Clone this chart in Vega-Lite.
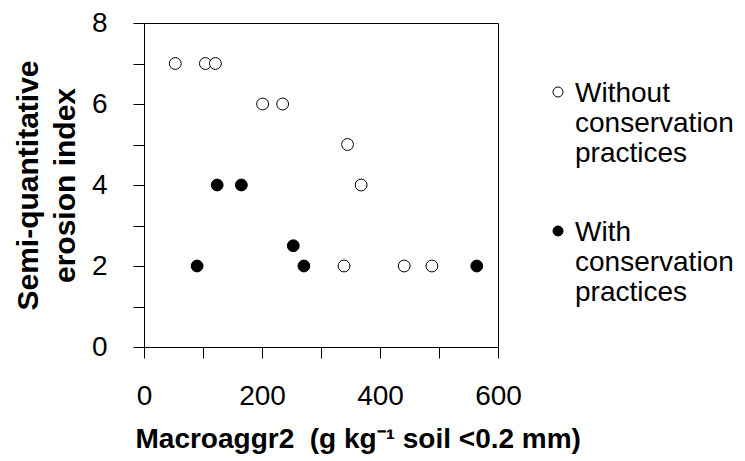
{
  "$schema": "https://vega.github.io/schema/vega-lite/v6.json",
  "width": 354,
  "height": 324,
  "autosize": {"type": "none"},
  "padding": {"left": 144, "top": 23, "right": 247, "bottom": 114},
  "background": "white",
  "config": {
    "font": "Liberation Sans",
    "view": {"stroke": "black", "strokeWidth": 1},
    "axis": {
      "grid": false,
      "domainColor": "black",
      "tickColor": "black",
      "tickSize": 11,
      "labelFlush": false,
      "labelColor": "black",
      "labelFontSize": 28,
      "labelFont": "Liberation Sans",
      "titleColor": "black",
      "titleFontSize": 28,
      "titleFontWeight": "bold",
      "titleFont": "Liberation Sans"
    }
  },
  "data": {
    "values": [
      {"macroaggr": 53, "erosion": 7, "practice": "without"},
      {"macroaggr": 104, "erosion": 7, "practice": "without"},
      {"macroaggr": 121, "erosion": 7, "practice": "without"},
      {"macroaggr": 201, "erosion": 6, "practice": "without"},
      {"macroaggr": 235, "erosion": 6, "practice": "without"},
      {"macroaggr": 345, "erosion": 5, "practice": "without"},
      {"macroaggr": 368, "erosion": 4, "practice": "without"},
      {"macroaggr": 339, "erosion": 2, "practice": "without"},
      {"macroaggr": 441, "erosion": 2, "practice": "without"},
      {"macroaggr": 488, "erosion": 2, "practice": "without"},
      {"macroaggr": 90, "erosion": 2, "practice": "with"},
      {"macroaggr": 124, "erosion": 4, "practice": "with"},
      {"macroaggr": 165, "erosion": 4, "practice": "with"},
      {"macroaggr": 253, "erosion": 2.5, "practice": "with"},
      {"macroaggr": 271, "erosion": 2, "practice": "with"},
      {"macroaggr": 564, "erosion": 2, "practice": "with"}
    ]
  },
  "mark": {"type": "circle", "size": 140, "stroke": "black", "strokeWidth": 1, "opacity": 1},
  "encoding": {
    "x": {
      "field": "macroaggr",
      "type": "quantitative",
      "scale": {"domain": [0, 600], "nice": false},
      "axis": {
        "title": "Macroaggr2\u00a0 (g kg⁻¹ soil <0.2 mm)",
        "values": [0, 100, 200, 300, 400, 500, 600],
        "labelExpr": "datum.value % 200 == 0 ? datum.label : ''",
        "labelPadding": 24,
        "titleAnchor": "start",
        "titleAlign": "left",
        "titleBaseline": "alphabetic",
        "titleX": -9,
        "titleY": 100
      }
    },
    "y": {
      "field": "erosion",
      "type": "quantitative",
      "scale": {"domain": [0, 8], "nice": false},
      "axis": {
        "title": ["Semi-quantitative", "erosion index"],
        "values": [0, 1, 2, 3, 4, 5, 6, 7, 8],
        "labelExpr": "datum.value % 2 == 0 ? datum.label : ''",
        "labelPadding": 26,
        "titleFontSize": 30,
        "titleBaseline": "alphabetic",
        "titleLineHeight": 37,
        "titleX": -107
      }
    },
    "fill": {
      "field": "practice",
      "type": "nominal",
      "scale": {"domain": ["without", "with"], "range": ["white", "black"]},
      "legend": {
        "title": null,
        "orient": "none",
        "legendX": 400,
        "legendY": 65,
        "padding": 0,
        "symbolType": "M-1,-2A1,1,0,1,1,1,-2A1,1,0,1,1,-1,-2Z",
        "symbolSize": 100,
        "symbolStrokeColor": "black",
        "symbolStrokeWidth": 1,
        "labelFontSize": 28,
        "labelColor": "black",
        "labelOffset": 3,
        "labelLimit": 0,
        "labelBaseline": "alphabetic",
        "rowPadding": 51,
        "labelExpr": "datum.value == 'without' ? ['Without', 'conservation', 'practices'] : ['With', 'conservation', 'practices']"
      }
    }
  }
}
